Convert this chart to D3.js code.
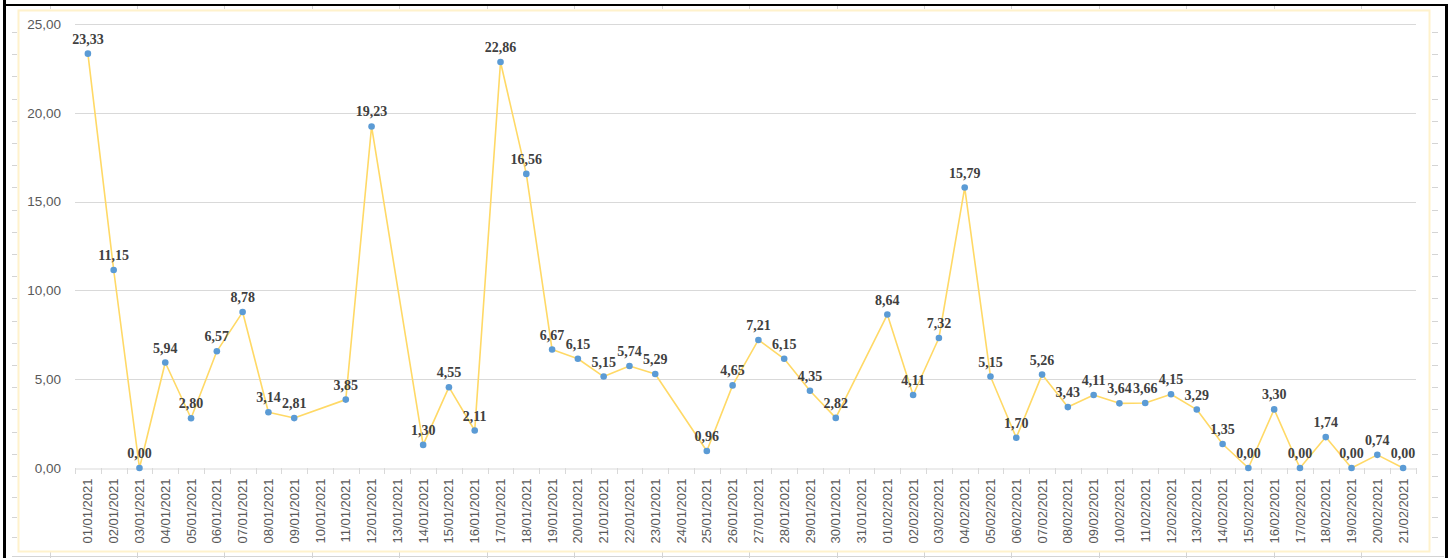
<!DOCTYPE html>
<html>
<head>
<meta charset="utf-8">
<script src="https://cdn.jsdelivr.net/npm/d3@7"></script>
<style>
  html, body { margin: 0; padding: 0; background: #ffffff; }
  svg { display: block; }
</style>
</head>
<body>
<svg id="chart" width="1452" height="558"></svg>
<script>
// ---- data ----
const categories = [
  "01/01/2021","02/01/2021","03/01/2021","04/01/2021","05/01/2021","06/01/2021","07/01/2021",
  "08/01/2021","09/01/2021","10/01/2021","11/01/2021","12/01/2021","13/01/2021","14/01/2021",
  "15/01/2021","16/01/2021","17/01/2021","18/01/2021","19/01/2021","20/01/2021","21/01/2021",
  "22/01/2021","23/01/2021","24/01/2021","25/01/2021","26/01/2021","27/01/2021","28/01/2021",
  "29/01/2021","30/01/2021","31/01/2021","01/02/2021","02/02/2021","03/02/2021","04/02/2021",
  "05/02/2021","06/02/2021","07/02/2021","08/02/2021","09/02/2021","10/02/2021","11/02/2021",
  "12/02/2021","13/02/2021","14/02/2021","15/02/2021","16/02/2021","17/02/2021","18/02/2021",
  "19/02/2021","20/02/2021","21/02/2021"
];
const values = [
  23.33, 11.15, 0.00, 5.94, 2.80, 6.57, 8.78,
  3.14, 2.81, null, 3.85, 19.23, null, 1.30,
  4.55, 2.11, 22.86, 16.56, 6.67, 6.15, 5.15,
  5.74, 5.29, null, 0.96, 4.65, 7.21, 6.15,
  4.35, 2.82, null, 8.64, 4.11, 7.32, 15.79,
  5.15, 1.70, 5.26, 3.43, 4.11, 3.64, 3.66,
  4.15, 3.29, 1.35, 0.00, 3.30, 0.00, 1.74,
  0.00, 0.74, 0.00
];
const yTicks = [0, 5, 10, 15, 20, 25];

// ---- layout ----
const svg = d3.select("#chart");
const W = 1452, H = 558;
const plot = { left: 75, right: 1416, top: 24, bottom: 468 };
const fmt = v => d3.format(".2f")(v).replace(".", ",");

// spreadsheet cell grid peeking around the chart
const deco = svg.append("g").attr("stroke", "#d4d4d4").attr("stroke-width", 1);
for (let x = 49.5; x < 1440; x += 87.45) {
  deco.append("line").attr("x1", Math.round(x) + 0.5).attr("x2", Math.round(x) + 0.5).attr("y1", 5).attr("y2", 9);
  deco.append("line").attr("x1", Math.round(x) + 0.5).attr("x2", Math.round(x) + 0.5).attr("y1", 552).attr("y2", 558);
}
const rowYs = [];
for (let y = 32; y < 480; y += 22.2) rowYs.push(y);
rowYs.push(497, 517, 537);
rowYs.forEach(y => {
  deco.append("line").attr("x1", 12).attr("x2", 17).attr("y1", Math.round(y) + 0.5).attr("y2", Math.round(y) + 0.5);
  deco.append("line").attr("x1", 1432).attr("x2", 1438).attr("y1", Math.round(y) + 0.5).attr("y2", Math.round(y) + 0.5);
});
deco.append("line").attr("x1", 12).attr("x2", 1444).attr("y1", 556.5).attr("y2", 556.5);

// black outer frame (left, top, right)
svg.append("rect").attr("x", 3).attr("y", 0).attr("width", 3).attr("height", H).attr("fill", "#000");
svg.append("rect").attr("x", 3).attr("y", 4).attr("width", 1445).attr("height", 2).attr("fill", "#000");
svg.append("rect").attr("x", 1445).attr("y", 4).attr("width", 3).attr("height", H - 4).attr("fill", "#000");

// chart area border
svg.append("rect")
  .attr("x", 18.5).attr("y", 10.5).attr("width", 1411).attr("height", 541)
  .attr("fill", "#ffffff").attr("stroke", "#fff2cc").attr("stroke-width", 2);

// ---- scales ----
const x = d3.scaleBand().domain(categories).range([plot.left, plot.right]).padding(0);
const y = d3.scaleLinear().domain([0, 25]).range([plot.bottom, plot.top]);
const cx = c => x(c) + x.bandwidth() / 2;

// gridlines
svg.append("g")
  .selectAll("line").data(yTicks.filter(t => t > 0)).join("line")
  .attr("x1", plot.left).attr("x2", plot.right)
  .attr("y1", d => Math.round(y(d)) + 0.5).attr("y2", d => Math.round(y(d)) + 0.5)
  .attr("stroke", "#d9d9d9").attr("stroke-width", 1);

// y axis labels
const yAxis = d3.axisLeft(y).tickValues(yTicks).tickFormat(fmt).tickSize(0).tickPadding(0);
const gy = svg.append("g").attr("transform", `translate(${plot.left - 14},0)`).call(yAxis);
gy.select(".domain").remove();
gy.selectAll("text")
  .attr("fill", "#595959")
  .style("font-family", "'Liberation Sans', Arial, sans-serif")
  .style("font-size", "13.5px");

// x axis
const xAxis = d3.axisBottom(x).tickSize(0).tickPadding(0);
const gx = svg.append("g").attr("transform", `translate(0,${Math.round(plot.bottom) + 0.5})`).call(xAxis);
gx.select(".domain").attr("stroke", "#d9d9d9");
gx.selectAll(".tick text")
  .attr("fill", "#595959")
  .style("font-family", "'Liberation Sans', Arial, sans-serif")
  .style("font-size", "13px")
  .attr("text-anchor", "end")
  .attr("dy", "0.35em")
  .attr("transform", "translate(0,10) rotate(-90)")
  .attr("x", 0).attr("y", 0);
// tick marks at band boundaries
svg.append("g")
  .selectAll("line").data(categories.concat(["__end"])).join("line")
  .attr("x1", (d, i) => Math.round(plot.left + i * x.bandwidth()) + 0.5)
  .attr("x2", (d, i) => Math.round(plot.left + i * x.bandwidth()) + 0.5)
  .attr("y1", plot.bottom).attr("y2", plot.bottom + 6)
  .attr("stroke", "#d9d9d9").attr("stroke-width", 1);

// ---- series ----
const pts = categories.map((c, i) => ({ c, v: values[i] })).filter(d => d.v !== null);
const line = d3.line().x(d => cx(d.c)).y(d => y(d.v));
svg.append("path").datum(pts)
  .attr("d", line).attr("fill", "none")
  .attr("stroke", "#ffd966").attr("stroke-width", 1.6).attr("stroke-linejoin", "round");

svg.append("g").selectAll("circle").data(pts).join("circle")
  .attr("cx", d => cx(d.c)).attr("cy", d => y(d.v)).attr("r", 3.3)
  .attr("fill", "#5b9bd5");

svg.append("g").selectAll("text").data(pts).join("text")
  .attr("x", d => cx(d.c)).attr("y", d => y(d.v) - 10)
  .attr("text-anchor", "middle")
  .attr("fill", "#404040")
  .style("font-family", "'Liberation Serif', 'Times New Roman', serif")
  .style("font-weight", "bold")
  .style("font-size", "14px")
  .text(d => fmt(d.v));
</script>
</body>
</html>
